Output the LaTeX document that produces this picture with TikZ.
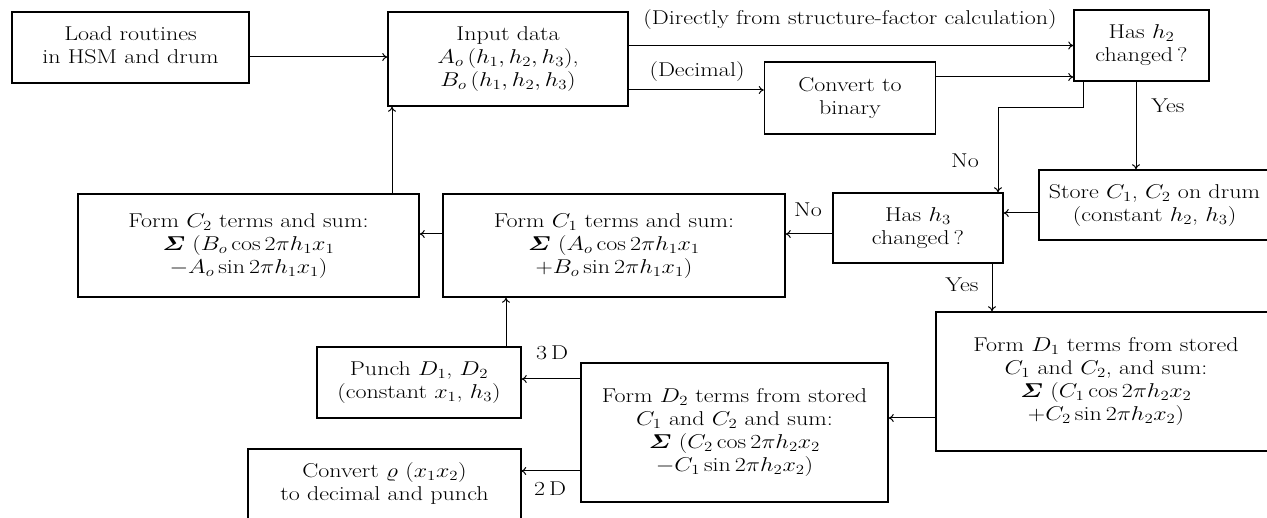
\documentclass[tikz,border=0pt]{standalone}
\usepackage{fix-cm}
\usepackage{amsmath,bm,graphicx}
\usepackage{fontspec}
\usetikzlibrary{arrows.meta,calc}
\tikzset{
  txt/.style={font=\fontsize{20}{23}\selectfont, inner sep=0pt},
  box/.style={txt, draw, line width=1.5pt, align=center},
  arr/.style={line width=1pt, -{To[length=5pt,width=8pt]}},
  lab/.style={txt}
}
\newcommand{\Sg}{\bm{\varSigma}}
\newcommand{\wt}[1]{\scalebox{1.2}[1]{\begin{tabular}{@{}c@{}}#1\end{tabular}}}
\begin{document}
\begin{tikzpicture}[x=1pt,y=-1pt]
\fill[white] (0,0) rectangle (1267,518);
\useasboundingbox (0,0) rectangle (1267,518);
% boxes
\node[box, minimum width=237pt, minimum height=71pt] (load) at (130.5,47.5) {\wt{Load routines\\in HSM and drum}};
\node[box, minimum width=240pt, minimum height=94pt] (input) at (508,59) {\wt{Input data\\$A_o\,(h_1, h_2, h_3)$,\\$B_o\,(h_1, h_2, h_3)$}};
\node[box, minimum width=171pt, minimum height=72pt] (conv) at (850,98) {\wt{Convert to\\binary}};
\node[box, minimum width=135pt, minimum height=71pt] (h2) at (1141.5,45.5) {\wt{Has $h_2$\\changed\,?}};
\node[box, minimum width=231pt, minimum height=70pt] (store) at (1154.5,205) {\wt{Store $C_1$, $C_2$ on drum\\(constant $h_2$, $h_3$)}};
\node[box, minimum width=170pt, minimum height=70pt] (h3) at (918,228) {\wt{Has $h_3$\\changed\,?}};
\node[box, minimum width=342pt, minimum height=103pt] (c1) at (614,245.5) {\wt{Form $C_1$ terms and sum:\\$\Sg\ (A_o\cos 2\pi h_1x_1$\\$+B_o\sin 2\pi h_1x_1)$}};
\node[box, minimum width=341pt, minimum height=103pt] (c2) at (248.5,245.5) {\wt{Form $C_2$ terms and sum:\\$\Sg\ (B_o\cos 2\pi h_1x_1$\\$-A_o\sin 2\pi h_1x_1)$}};
\node[box, minimum width=340pt, minimum height=139pt] (d1) at (1106,381.5) {\wt{Form $D_1$ terms from stored\\$C_1$ and $C_2$, and sum:\\$\Sg\ (C_1\cos 2\pi h_2x_2$\\$+C_2\sin 2\pi h_2x_2)$}};
\node[box, minimum width=307pt, minimum height=139pt] (d2) at (734.5,432.5) {\wt{Form $D_2$ terms from stored\\$C_1$ and $C_2$ and sum:\\$\Sg\ (C_2\cos 2\pi h_2x_2$\\$-C_1\sin 2\pi h_2x_2)$}};
\node[box, minimum width=204pt, minimum height=71pt] (punch) at (419,382.5) {\wt{Punch $D_1$, $D_2$\\(constant $x_1$, $h_3$)}};
\node[txt, align=center, minimum width=273pt, minimum height=71pt] (rho) at (384.5,484.5) {\wt{Convert $\varrho$ $(x_1x_2)$\\to decimal and punch}};
\draw[line width=1.5pt] (rho.south west) -- (rho.north west) -- (rho.north east) -- (rho.south east);
% helper coordinates
\coordinate (dec) at (700,90);
\coordinate (cvh) at (1000,77);
\coordinate (nb) at (1083,108);
\coordinate (nc) at (998,108);
\coordinate (yx) at (1136,120);
\coordinate (sy) at (1020,213);
\coordinate (ny) at (800,234);
\coordinate (ux) at (392,150);
\coordinate (y3) at (992,287);
\coordinate (dy) at (910,418);
\coordinate (t3) at (550,379);
\coordinate (t2) at (550,471);
\coordinate (px) at (506,320);
% connectors
\draw[arr] ([yshift=-9.5pt]load.east) -- ([yshift=-9.5pt]load.east -| input.west);
\draw[arr] (input.east |- h2.west) -- (h2.west);
\draw[arr] (input.east |- dec) -- (conv.west |- dec);
\draw[arr] (conv.east |- cvh) -- (h2.west |- cvh);
\draw[arr] (h2.south -| nb) -- (nb) -- (nc) -- (h3.north -| nc);
\draw[arr] (h2.south -| yx) -- (store.north -| yx);
\draw[arr] (store.west |- sy) -- (h3.east |- sy);
\draw[arr] (h3.west |- ny) -- (c1.east |- ny);
\draw[arr] (c1.west |- ny) -- (c2.east |- ny);
\draw[arr] (c2.north -| ux) -- (input.south -| ux);
\draw[arr] (h3.south -| y3) -- (d1.north -| y3);
\draw[arr] (d1.west |- dy) -- (d2.east |- dy);
\draw[arr] (d2.west |- t3) -- (punch.east |- t3);
\draw[arr] (d2.west |- t2) -- (rho.east |- t2);
\draw[arr] (punch.north -| px) -- (c1.south -| px);
% labels
\node[lab] (ldir) at (850,20) {\wt{(Directly from structure-factor calculation)}};
\node[lab] (ldec) at (697,72) {\wt{(Decimal)}};
\node[lab] (lno1) at (965,163) {\wt{No}};
\node[lab] (lyes1) at (1168,108) {\wt{Yes}};
\node[lab] (lno2) at (808,212) {\wt{No}};
\node[lab] (lyes2) at (962,287) {\wt{Yes}};
\node[lab] (l3d) at (552,355) {\wt{3\,D}};
\node[lab] (l2d) at (550,491) {\wt{2\,D}};
\end{tikzpicture}
\end{document}
